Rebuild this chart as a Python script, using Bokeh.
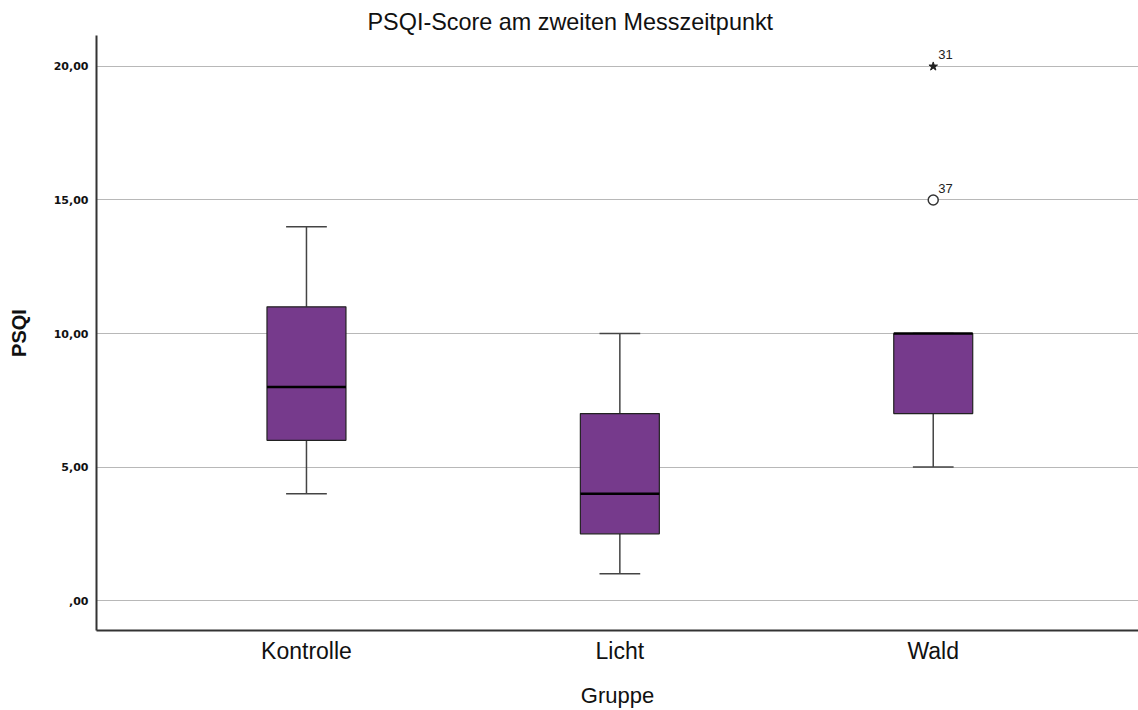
from bokeh.plotting import figure
from bokeh.models import Range1d, FixedTicker, ColumnDataSource, Title
from bokeh.core.properties import value
from bokeh.embed import file_html
from bokeh.resources import INLINE

# ---- data ----
groups = ["Kontrolle", "Licht", "Wald"]
whisker_low = [4, 1, 5]
q1 = [6, 2.5, 7]
median = [8, 4, 10]
q3 = [11, 7, 10]
whisker_high = [14, 10, 10]
outlier_group = [3, 3]
outlier_value = [15, 20]
outlier_case = ["37", "31"]
outlier_kind = ["circle", "star"]
y_ticks = [0, 5, 10, 15, 20]
y_tick_labels = [",00", "5,00", "10,00", "15,00", "20,00"]

purple = "#763A8C"
xs = [1, 2, 3]
box_w = 0.252
cap_w = 0.13

p = figure(width=1138, height=710, output_backend="svg", toolbar_location=None,
           x_range=Range1d(0.330, 3.655), y_range=Range1d(-1.121, 21.159),
           min_border_left=96, min_border_right=0, min_border_top=35, min_border_bottom=79)
p.title = Title(text="PSQI-Score am zweiten Messzeitpunkt", align="left", offset=271,
                text_font="Liberation Sans", text_font_size="23.4px", text_font_style="normal",
                text_color="#111111", standoff=2)
p.outline_line_color = None
p.background_fill_color = "white"
p.border_fill_color = "white"

# grid
p.xgrid.grid_line_color = None
p.ygrid.ticker = FixedTicker(ticks=y_ticks)
p.ygrid.grid_line_color = "#b8b8b8"
p.ygrid.grid_line_width = 1

# axes
p.yaxis.ticker = FixedTicker(ticks=y_ticks)
p.yaxis.major_label_overrides = {t: l for t, l in zip(y_ticks, y_tick_labels)}
p.yaxis.major_label_text_font = "DejaVu Sans"
p.yaxis.major_label_text_font_style = "bold"
p.yaxis.major_label_text_font_size = "11px"
p.yaxis.major_label_text_color = "#111111"
p.yaxis.major_label_standoff = 8
p.yaxis.axis_label = "PSQI"
p.yaxis.axis_label_text_font = "Liberation Sans"
p.yaxis.axis_label_text_font_size = "20px"
p.yaxis.axis_label_text_font_style = "bold"
p.yaxis.axis_label_text_color = "#111111"
p.yaxis.axis_label_standoff = 21

p.xaxis.ticker = FixedTicker(ticks=xs)
p.xaxis.major_label_overrides = {x: g for x, g in zip(xs, groups)}
p.xaxis.major_label_text_font = "Liberation Sans"
p.xaxis.major_label_text_font_style = "normal"
p.xaxis.major_label_text_font_size = "23px"
p.xaxis.major_label_text_color = "#111111"
p.xaxis.major_label_standoff = 7
p.xaxis.axis_label = "Gruppe"
p.xaxis.axis_label_text_font = "Liberation Sans"
p.xaxis.axis_label_text_font_size = "22px"
p.xaxis.axis_label_text_font_style = "normal"
p.xaxis.axis_label_text_color = "#111111"
p.xaxis.axis_label_standoff = 16

for ax in (p.xaxis[0], p.yaxis[0]):
    ax.axis_line_color = "#333333"
    ax.axis_line_width = 2
    ax.major_tick_line_color = None
    ax.minor_tick_line_color = None
    ax.major_tick_out = 0
    ax.major_tick_in = 0
    ax.minor_tick_out = 0
    ax.minor_tick_in = 0

src = ColumnDataSource(dict(x=xs, wl=whisker_low, q1=q1, med=median, q3=q3, wh=whisker_high,
                            capl=[x - cap_w / 2 for x in xs], capr=[x + cap_w / 2 for x in xs],
                            bl=[x - box_w / 2 for x in xs], br=[x + box_w / 2 for x in xs]))

# whiskers
p.segment(x0="x", y0="q3", x1="x", y1="wh", source=src, line_color="#444444", line_width=1.5)
p.segment(x0="x", y0="wl", x1="x", y1="q1", source=src, line_color="#444444", line_width=1.5)
p.segment(x0="capl", y0="wh", x1="capr", y1="wh", source=src, line_color="#444444", line_width=1.5)
p.segment(x0="capl", y0="wl", x1="capr", y1="wl", source=src, line_color="#444444", line_width=1.5)
# boxes
p.quad(left="bl", right="br", bottom="q1", top="q3", source=src,
       fill_color=purple, line_color="#222222", line_width=1.2)
p.segment(x0="bl", y0="med", x1="br", y1="med", source=src, line_color="black", line_width=2.5)

# outliers
osrc = ColumnDataSource(dict(x=outlier_group, y=outlier_value, lab=outlier_case))
circ = ColumnDataSource(dict(x=[g for g, k in zip(outlier_group, outlier_kind) if k == "circle"],
                             y=[v for v, k in zip(outlier_value, outlier_kind) if k == "circle"]))
star = ColumnDataSource(dict(x=[g for g, k in zip(outlier_group, outlier_kind) if k == "star"],
                             y=[v for v, k in zip(outlier_value, outlier_kind) if k == "star"]))
p.scatter(x="x", y="y", source=circ, marker="circle", size=10, fill_color="white",
          line_color="#333333", line_width=1.5)
p.scatter(x="x", y="y", source=star, marker="star", size=9, fill_color="#222222",
          line_color="#222222")
p.text(x="x", y="y", text="lab", source=osrc, x_offset=5, y_offset=-7,
       text_font=value("Liberation Sans"), text_font_size="13px",
       text_baseline="bottom", text_color="#222222")

open("out.html", "w").write(file_html(p, INLINE))
